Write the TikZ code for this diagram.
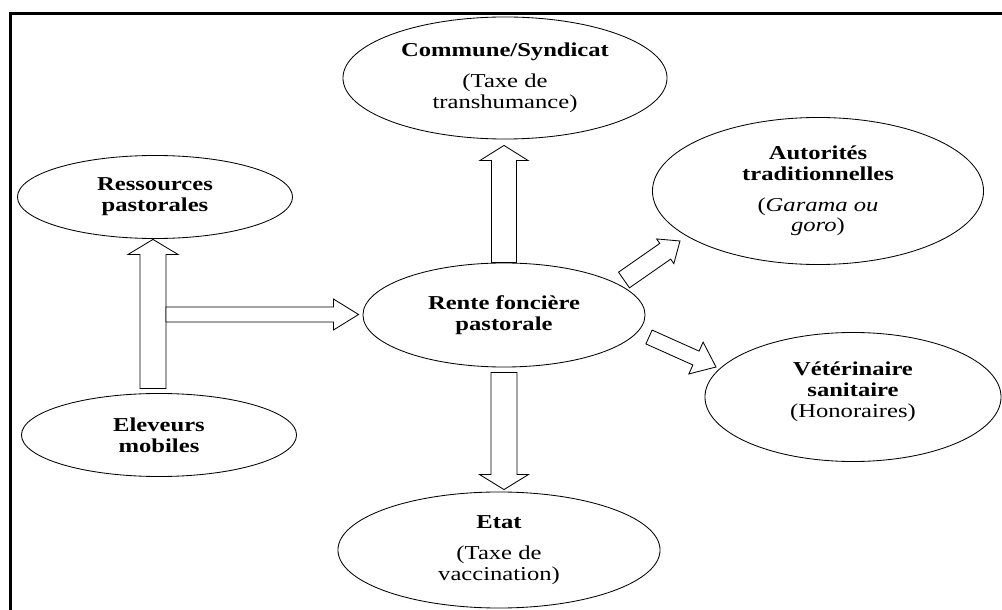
\documentclass[tikz,border=0pt]{standalone}
\usepackage{fontspec}
\setmainfont{Liberation Serif}[FakeStretch=1.25]
\usetikzlibrary{shapes.geometric,calc}

\begin{document}
\begin{tikzpicture}[x=0.025cm,y=-0.025cm,line width=0.6pt,
        zone/.style={ellipse,draw,inner sep=0pt,align=center,font=\fontsize{14}{14.8}\selectfont},
        hollow arrow/.style args={#1/#2/#3}{draw,fill=white,to path={
            let \p1=(\tikztostart), \p2=(\tikztotarget), \n1={atan2(\y2-\y1,\x2-\x1)} in
            ($(\p1)+(\n1+90:#1)$) -- ($(\p2)+(\n1+180:#3)+(\n1+90:#1)$)
            -- ($(\p2)+(\n1+180:#3)+(\n1+90:#2)$) -- (\p2)
            -- ($(\p2)+(\n1+180:#3)+(\n1-90:#2)$) -- ($(\p2)+(\n1+180:#3)+(\n1-90:#1)$)
            -- ($(\p1)+(\n1-90:#1)$) -- cycle}}]

        \useasboundingbox (0,0) rectangle (1002,610);
        \draw[line width=2.1pt] (10.7,640) -- (10.7,13.3) -- (1040,13.3);

        \node[zone,minimum width=8.1cm,minimum height=3.05cm] (commune) at (505,78)
            {\textbf{Commune/Syndicat}\\[7pt](Taxe de\\transhumance)};
        \node[zone,minimum width=6.875cm,minimum height=2.075cm] (ressources) at (155,197)
            {\textbf{Ressources}\\\textbf{pastorales}};
        \node[zone,minimum width=8.275cm,minimum height=3.675cm] (autorites) at (818,191)
            {\textbf{Autorités}\\\textbf{traditionnelles}\\[7pt](\textit{Garama ou}\\\textit{goro})};
        \node[zone,minimum width=7.05cm,minimum height=2.6cm] (rente) at (504,315)
            {\textbf{Rente foncière}\\\textbf{pastorale}};
        \node[zone,minimum width=7.4cm,minimum height=3.225cm] (veterinaire) at (853,397)
            {\textbf{Vétérinaire}\\\textbf{sanitaire}\\(Honoraires)\\[-4pt]\mbox{}};
        \node[zone,minimum width=6.875cm,minimum height=2.075cm] (eleveurs) at (159,435)
            {\textbf{Eleveurs}\\\textbf{mobiles}};
        \node[zone,minimum width=8.05cm,minimum height=2.9cm] (etat) at (499,550)
            {\textbf{Etat}\\[7pt](Taxe de\\vaccination)};

        \coordinate (fork) at (166,314.5);

        \path
        ($(ressources.south |- eleveurs.north)+(-2,-4.5)$) edge[hollow arrow=9.25pt/17.8pt/10.7pt] ($(ressources.south)+(-2,0.5)$)
        (fork) edge[hollow arrow=5.3pt/11pt/17.8pt] ($(fork -| rente.west)+(-4,0)$)
        (rente.north) edge[hollow arrow=8.9pt/17.1pt/10.7pt] ($(rente.north |- commune.south)+(0,6)$)
        ($(rente.south)+(0,5)$) edge[hollow arrow=9.25pt/17.4pt/10.7pt] ($(rente.south |- etat.north)+(0,-2)$)
        ($(rente)+(120,-35)$) edge[hollow arrow=6.8pt/10.7pt/12.8pt] ($(autorites)+(-138,50)$)
        ($(rente)+(145,22)$) edge[hollow arrow=5.4pt/12.4pt/15.6pt] ($(veterinaire)+(-137,-30)$);
\end{tikzpicture}
\end{document}
